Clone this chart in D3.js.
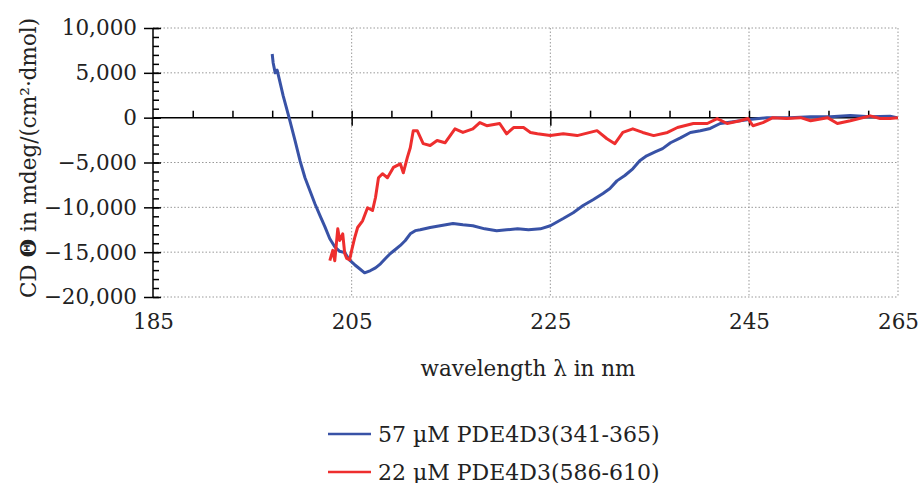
<!DOCTYPE html>
<html>
<head>
<meta charset="utf-8">
<title>CD spectra PDE4D3 peptides</title>
<script src="https://d3js.org/d3.v7.min.js"></script>
<style>
  body { margin: 0; background: #fff; }
  svg text { font-family: "DejaVu Serif", serif; fill: #222; }
  .grid line { stroke: #999; stroke-width: 1; stroke-dasharray: 1.5, 2; }
  .ax path, .ax line { stroke: #000; stroke-width: 1.5; }
  .curve { fill: none; stroke-width: 3; stroke-linejoin: round; }
</style>
</head>
<body>
<svg id="chart" width="919" height="483"></svg>
<script>
// values
var blueWavelength = [197.0, 197.1, 197.3, 197.5, 197.7, 198.1, 198.7, 199.3, 199.8, 200.3, 200.8, 201.3, 201.8, 202.3, 202.8, 203.3, 203.8, 204.3, 204.8, 205.3, 205.8, 206.3, 206.9, 207.4, 207.9, 208.4, 208.9, 209.4, 209.9, 210.4, 210.9, 211.4, 211.9, 212.9, 213.9, 215.2, 216.2, 217.2, 218.4, 219.6, 220.6, 221.7, 222.8, 224.0, 225.0, 226.3, 227.3, 228.3, 229.3, 230.3, 231.0, 231.7, 232.5, 233.3, 234.0, 234.7, 235.6, 236.3, 237.1, 238.1, 239.1, 240.1, 241.1, 242.1, 243.4, 245.0, 246.8, 249.1, 251.2, 253.2, 255.2, 257.2, 259.2, 259.9];
var blueCD = [7100, 6100, 5000, 5300, 4350, 2450, 0, -2550, -4800, -6700, -8150, -9600, -10900, -12150, -13500, -14400, -14900, -15050, -15900, -16400, -16850, -17300, -17050, -16750, -16300, -15700, -15150, -14700, -14250, -13700, -12950, -12600, -12500, -12250, -12050, -11800, -11950, -12050, -12400, -12600, -12500, -12400, -12500, -12400, -12050, -11250, -10600, -9800, -9150, -8450, -7900, -7050, -6450, -5700, -4800, -4250, -3800, -3450, -2800, -2250, -1650, -1450, -1200, -650, -450, -200, 0, 0, 100, 100, 250, 100, 150, 0];

var redWavelength = [202.8, 203.1, 203.3, 203.6, 203.8, 204.1, 204.3, 204.5, 204.8, 205.0, 205.3, 205.6, 206.1, 206.6, 207.1, 207.4, 207.7, 208.1, 208.6, 209.2, 209.9, 210.2, 210.6, 210.9, 211.2, 211.6, 212.2, 212.9, 213.6, 214.4, 215.4, 216.2, 217.2, 217.9, 218.6, 219.9, 220.6, 221.3, 222.3, 223.0, 223.7, 225.0, 226.3, 227.7, 229.7, 230.7, 231.5, 232.3, 233.3, 234.3, 235.4, 236.8, 237.8, 239.4, 240.8, 241.8, 242.8, 244.1, 244.9, 245.4, 246.4, 247.4, 248.8, 250.2, 251.2, 252.9, 253.9, 255.2, 257.2, 258.2, 259.2, 260.0];
var redCD = [-15950, -14800, -15950, -12400, -13700, -12950, -15150, -15700, -15850, -14800, -13400, -12250, -11500, -10050, -10350, -8900, -6700, -6250, -6700, -5550, -5150, -6150, -4450, -3350, -1450, -1450, -2900, -3100, -2550, -2800, -1250, -1650, -1250, -550, -900, -650, -1800, -1100, -1100, -1650, -1800, -2000, -1800, -2000, -1450, -2350, -2900, -1650, -1250, -1650, -2000, -1650, -1100, -650, -650, -100, -650, -350, -100, -900, -550, 0, -100, 0, -350, 0, -650, -350, 200, -100, -100, 0];

var yTicks = [10000, 5000, 0, -5000, -10000, -15000, -20000];
var xTickValues = [185, 205, 225, 245, 260];
var xTickLabels = ["185", "205", "225", "245", "265"];
var seriesNames = ["57 \u00b5M PDE4D3(341-365)", "22 \u00b5M PDE4D3(586-610)"];
var seriesColors = ["#3852a6", "#ee2e2e"];

var svg = d3.select("#chart");
var x = d3.scaleLinear().domain([185, 260]).range([153, 898]);
var y = d3.scaleLinear().domain([-20000, 10000]).range([297, 28]);

// dotted grid
var grid = svg.append("g").attr("class", "grid");
grid.selectAll(".h").data(yTicks.filter(function (d) { return d !== 0; }))
  .enter().append("line")
  .attr("x1", x(185)).attr("x2", x(260))
  .attr("y1", function (d) { return y(d); }).attr("y2", function (d) { return y(d); });
grid.selectAll(".v").data(xTickValues.slice(1))
  .enter().append("line")
  .attr("x1", function (d) { return x(d); }).attr("x2", function (d) { return x(d); })
  .attr("y1", y(10000)).attr("y2", y(-20000));

// y axis: labels + left half of major ticks
var yMinor = d3.range(-20000, 10001, 1000);
var yAxisL = svg.append("g").attr("class", "ax")
  .attr("transform", "translate(" + x(185) + ",0)")
  .call(d3.axisLeft(y).tickValues(yTicks).tickSize(9).tickPadding(7)
    .tickFormat(d3.format(",")));
yAxisL.selectAll("text").style("font-size", "21.5px").attr("fill", "#222");
yAxisL.select(".domain").attr("d", "M0," + y(10000) + "V" + y(-20000));

svg.append("g").attr("class", "ax")
  .attr("transform", "translate(" + x(185) + ",0)")
  .call(d3.axisRight(y).tickValues(yMinor).tickSize(6).tickFormat(""))
  .call(function (g) { g.select(".domain").remove(); });
svg.append("g").attr("class", "ax")
  .attr("transform", "translate(" + x(185) + ",0)")
  .call(d3.axisRight(y).tickValues(yTicks).tickSize(8).tickFormat(""))
  .call(function (g) { g.select(".domain").remove(); });

// x axis along zero line
var xMinor = d3.range(189, 260, 4);
svg.append("g").attr("class", "ax")
  .attr("transform", "translate(0," + y(0) + ")")
  .call(d3.axisTop(x).tickValues(xMinor).tickSize(7).tickFormat(""))
  .call(function (g) { g.select(".domain").attr("d", "M" + x(185) + ",0H" + x(260)); });
svg.append("g").attr("class", "ax")
  .attr("transform", "translate(0," + y(0) + ")")
  .call(d3.axisBottom(x).tickValues([205, 225, 245]).tickSize(8).tickFormat(""))
  .call(function (g) { g.select(".domain").remove(); });

// x tick labels under the plot
var xLab = svg.append("g")
  .attr("transform", "translate(0," + y(-20000) + ")")
  .call(d3.axisBottom(x).tickValues(xTickValues).tickSize(0).tickPadding(17)
    .tickFormat(function (d, i) { return xTickLabels[i]; }));
xLab.select(".domain").remove();
xLab.selectAll("text").style("font-size", "21.5px").attr("fill", "#222");

// curves
var line = d3.line().x(function (d) { return x(d[0]); }).y(function (d) { return y(d[1]); });
var blue = d3.zip(blueWavelength, blueCD);
var red = d3.zip(redWavelength, redCD);
svg.append("path").datum(blue).attr("class", "curve").attr("stroke", seriesColors[0]).attr("d", line);
svg.append("path").datum(red).attr("class", "curve").attr("stroke", seriesColors[1]).attr("d", line);

// axis titles
var yt = svg.append("text")
  .attr("transform", "translate(36,158) rotate(-90)")
  .attr("text-anchor", "middle")
  .style("font-size", "21.5px");
yt.append("tspan").text("CD ");
yt.append("tspan").attr("font-weight", "bold").text("\u0398");
yt.append("tspan").text(" in mdeg/(cm\u00b2\u00b7dmol)");

svg.append("text")
  .attr("x", 528).attr("y", 376)
  .attr("text-anchor", "middle")
  .style("font-size", "21.5px")
  .text("wavelength \u03bb in nm");

// legend
var leg = svg.append("g").selectAll("g").data(seriesNames).enter().append("g")
  .attr("transform", function (d, i) { return "translate(328," + (434 + i * 38) + ")"; });
leg.append("line").attr("x1", 0).attr("x2", 43)
  .attr("stroke", function (d, i) { return seriesColors[i]; }).attr("stroke-width", 2.5);
leg.append("text").attr("x", 50).attr("y", 7.5)
  .style("font-size", "22px")
  .text(function (d) { return d; });
</script>
</body>
</html>
